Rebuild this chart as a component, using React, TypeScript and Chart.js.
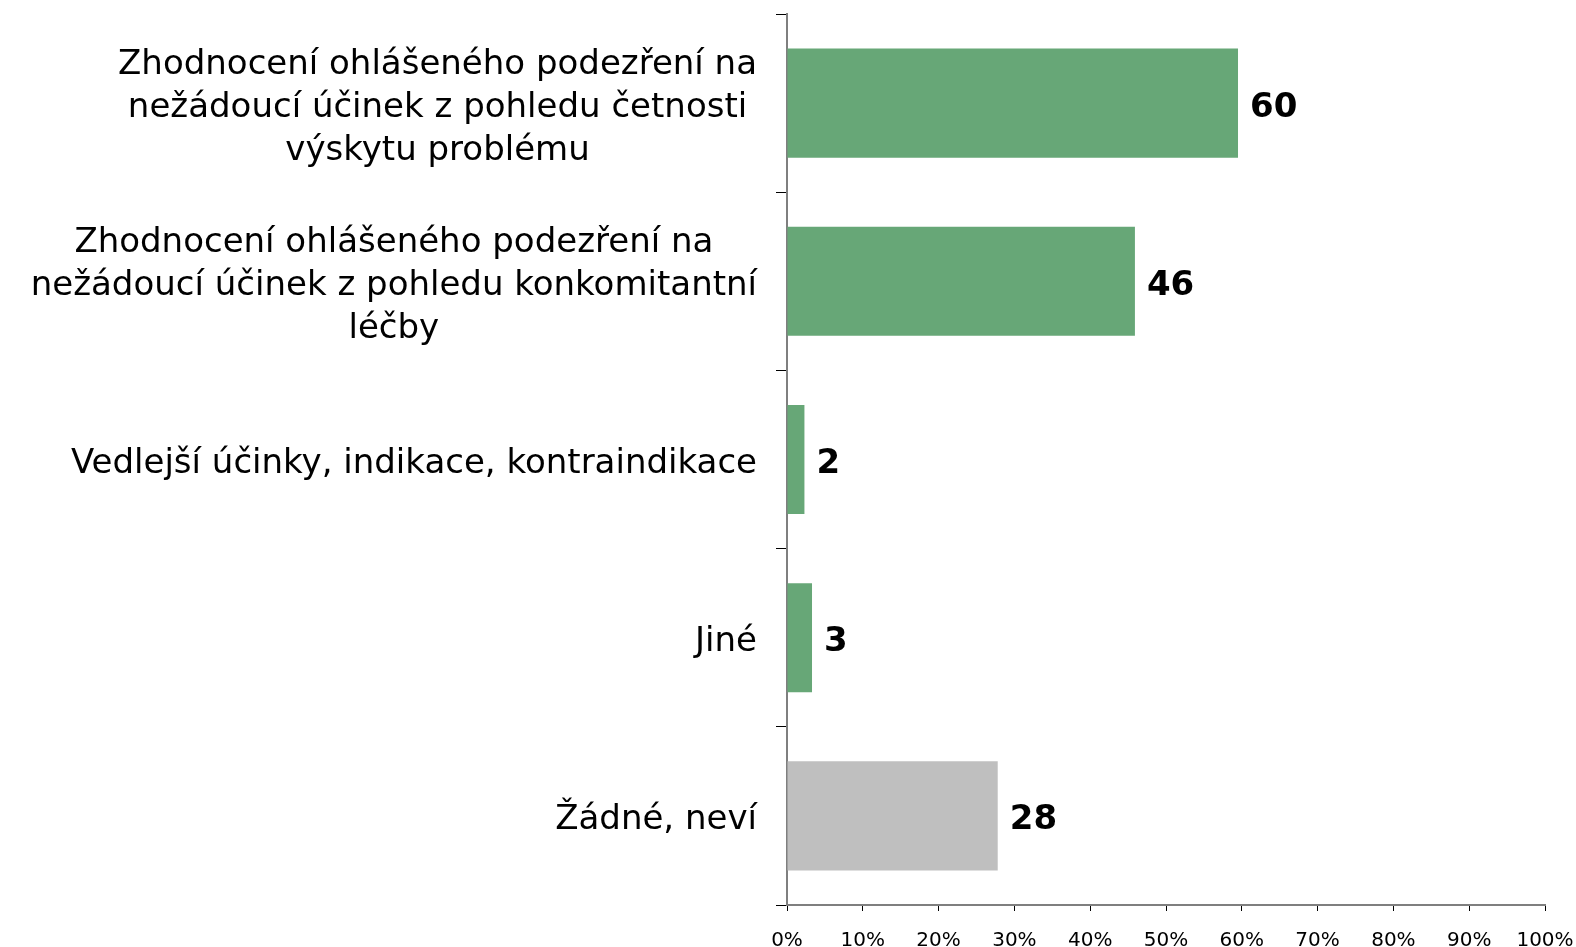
import React, { useEffect, useRef } from "react";
import { Chart, registerables } from "chart.js";

Chart.register(...registerables);

const categories: string[][] = [
  ["Zhodnocení ohlášeného podezření na", "nežádoucí účinek z pohledu četnosti", "výskytu problému"],
  ["Zhodnocení ohlášeného podezření na", "nežádoucí účinek z pohledu konkomitantní", "léčby"],
  ["Vedlejší účinky, indikace, kontraindikace"],
  ["Jiné"],
  ["Žádné, neví"],
];
const values: number[] = [59.5, 45.9, 2.3, 3.3, 27.8];
const barColors: string[] = ["#67A777", "#67A777", "#67A777", "#67A777", "#BFBFBF"];
const xTicks: number[] = [0, 10, 20, 30, 40, 50, 60, 70, 80, 90, 100];

const FONT = "'DejaVu Sans', Verdana, sans-serif";

const catLabelPlugin = {
  id: "catLabels",
  afterDraw(chart: any) {
    const { ctx } = chart;
    const y = chart.scales.y;
    const rightEdge = chart.chartArea.left - 30;
    const lh = 43;
    ctx.save();
    ctx.font = `34px ${FONT}`;
    ctx.fillStyle = "#000";
    ctx.textAlign = "center";
    ctx.textBaseline = "alphabetic";
    categories.forEach((lines, i) => {
      const cy = y.getPixelForValue(i);
      const widest = Math.max(...lines.map((l) => ctx.measureText(l).width));
      const cx = rightEdge - widest / 2;
      const startY = cy + 13.5 - ((lines.length - 1) * lh) / 2;
      lines.forEach((l, j) => ctx.fillText(l, cx, startY + j * lh));
    });
    ctx.restore();
  },
};

const valueLabelPlugin = {
  id: "valueLabels",
  afterDatasetsDraw(chart: any) {
    const { ctx } = chart;
    const meta = chart.getDatasetMeta(0);
    ctx.save();
    ctx.font = `bold 34px ${FONT}`;
    ctx.fillStyle = "#000";
    ctx.textAlign = "left";
    ctx.textBaseline = "alphabetic";
    meta.data.forEach((bar: any, i: number) => {
      ctx.fillText(String(Math.round(values[i])), bar.x + 12, bar.y + 13.5);
    });
    ctx.restore();
  },
};

export default function App() {
  const ref = useRef<HTMLCanvasElement>(null);
  useEffect(() => {
    if (!ref.current) return;
    const chart = new Chart(ref.current, {
      type: "bar",
      data: {
        labels: categories.map((c) => c.join(" ")),
        datasets: [
          {
            data: values,
            backgroundColor: barColors,
            borderWidth: 0,
            categoryPercentage: 1,
            barPercentage: 0.612,
          },
        ],
      },
      options: {
        indexAxis: "y",
        animation: false,
        responsive: false,
        events: [],
        layout: { padding: { top: 14, right: 31, left: 0, bottom: 0 } },
        plugins: { legend: { display: false }, tooltip: { enabled: false } },
        scales: {
          x: {
            min: 0,
            max: 100,
            afterBuildTicks: (scale: any) => {
              scale.ticks = xTicks.map((v) => ({ value: v }));
            },
            afterFit: (scale: any) => {
              scale.height = 42;
              scale.paddingLeft = 0;
              scale.paddingRight = 0;
            },
            border: { display: true, color: "#7F7F7F", width: 2 },
            grid: {
              drawOnChartArea: false,
              drawTicks: true,
              tickLength: 6,
              color: "#000000",
              lineWidth: 1,
            },
            ticks: {
              color: "#000",
              font: { family: FONT, size: 20 },
              padding: 18,
              maxRotation: 0,
              autoSkip: false,
              callback: (v: any) => `${v}%`,
            },
          },
          y: {
            afterFit: (scale: any) => {
              scale.width = 787;
              scale.paddingTop = 0;
              scale.paddingBottom = 0;
            },
            border: { display: true, color: "#7F7F7F", width: 2 },
            grid: {
              drawOnChartArea: false,
              drawTicks: true,
              offset: true,
              tickLength: 11,
              color: "#000000",
              lineWidth: 1,
            },
            ticks: { display: false },
          },
        },
      },
      plugins: [catLabelPlugin, valueLabelPlugin],
    });
    return () => chart.destroy();
  }, []);
  return (
    <div style={{ position: "fixed", left: 0, top: 0, width: 1576, height: 947, background: "#fff" }}>
      <canvas ref={ref} width={1576} height={947} />
    </div>
  );
}
